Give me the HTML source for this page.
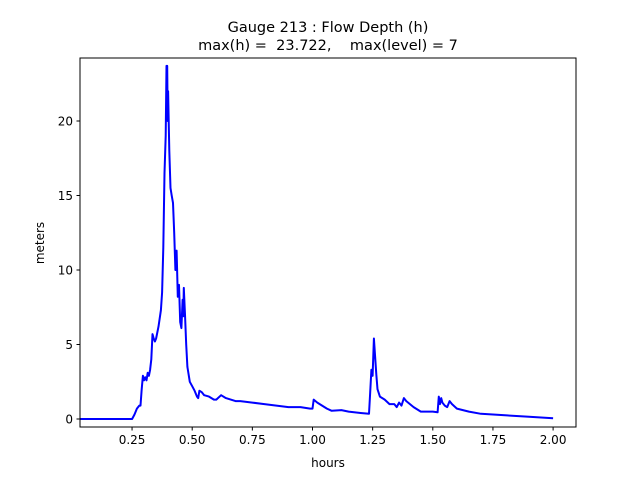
<!DOCTYPE html>
<html><head><style>
body{margin:0;background:#fff;}
svg text{font-family:"DejaVu Sans","Liberation Sans",sans-serif;fill:#000;}
</style></head><body>
<svg id="s" width="640" height="480" xmlns="http://www.w3.org/2000/svg">
<rect width="640" height="480" fill="#fff"/>
<text x="328" y="32" font-size="14.5" text-anchor="middle">Gauge 213 : Flow Depth (h)</text>
<text x="328" y="50" font-size="14.5" text-anchor="middle" xml:space="preserve">max(h) =  23.722,    max(level) = 7</text>
<g id="ticks"></g>
<path id="p" fill="none" stroke="#0000ff" stroke-width="2" stroke-linejoin="round"/>
<rect x="80" y="58" width="496" height="369" fill="none" stroke="#000" stroke-width="1"/>
<text x="328" y="467" font-size="12" text-anchor="middle">hours</text>
<text transform="translate(44,243) rotate(-90)" font-size="12" text-anchor="middle">meters</text>
</svg>
<script>
var px=function(h){return 71.9+240.6*h}, py=function(v){return 419-14.9*v};
var d=[[0.034,0],[0.25,0],[0.26,0.3],[0.27,0.7],[0.28,0.9],[0.285,0.9],[0.29,2.0],[0.295,2.9],[0.30,2.6],[0.305,2.8],[0.31,2.6],[0.315,3.1],[0.32,2.9],[0.325,3.3],[0.33,4.0],[0.335,5.7],[0.34,5.4],[0.345,5.2],[0.35,5.4],[0.36,6.2],[0.37,7.3],[0.375,8.5],[0.38,11.5],[0.385,16.5],[0.39,19],[0.393,23.7],[0.396,23.7],[0.398,20],[0.40,22],[0.405,18],[0.41,15.5],[0.415,15],[0.42,14.5],[0.425,12.5],[0.43,10],[0.435,11.3],[0.44,8.2],[0.445,9],[0.45,6.5],[0.455,6.1],[0.46,8.0],[0.463,6.9],[0.465,8.8],[0.47,7],[0.475,5],[0.48,3.5],[0.49,2.5],[0.50,2.2],[0.51,1.9],[0.52,1.5],[0.525,1.4],[0.53,1.9],[0.54,1.8],[0.55,1.6],[0.57,1.5],[0.59,1.3],[0.60,1.3],[0.62,1.6],[0.64,1.4],[0.66,1.3],[0.68,1.2],[0.70,1.2],[0.75,1.1],[0.80,1.0],[0.85,0.9],[0.90,0.8],[0.95,0.8],[0.99,0.7],[1.0,0.7],[1.005,1.3],[1.02,1.1],[1.04,0.9],[1.06,0.7],[1.08,0.55],[1.12,0.6],[1.15,0.5],[1.2,0.4],[1.235,0.35],[1.24,1.8],[1.245,3.3],[1.25,2.9],[1.255,5.4],[1.26,4.2],[1.265,3.0],[1.27,2.0],[1.28,1.5],[1.3,1.3],[1.32,1.0],[1.34,1.0],[1.35,0.8],[1.36,1.1],[1.37,0.9],[1.38,1.4],[1.39,1.2],[1.42,0.8],[1.45,0.5],[1.5,0.5],[1.52,0.45],[1.525,1.5],[1.53,1.0],[1.535,1.4],[1.54,1.1],[1.55,0.9],[1.56,0.8],[1.57,1.2],[1.58,1.0],[1.6,0.7],[1.65,0.5],[1.7,0.35],[1.8,0.25],[1.9,0.15],[2.0,0.05]];
document.getElementById('p').setAttribute('d',d.map(function(q,i){return (i?'L':'M')+px(q[0]).toFixed(1)+','+py(q[1]).toFixed(1)}).join(''));
var g='',xs=['0.25','0.50','0.75','1.00','1.25','1.50','1.75','2.00'];
xs.forEach(function(t){var x=px(+t);g+='<line x1="'+x+'" y1="427" x2="'+x+'" y2="430.5" stroke="#000"/><text x="'+x+'" y="444" font-size="12" text-anchor="middle">'+t+'</text>';});
[0,5,10,15,20].forEach(function(v){var y=py(v);g+='<line x1="76.5" y1="'+y+'" x2="80" y2="'+y+'" stroke="#000"/><text x="73" y="'+(y+4.5)+'" font-size="12" text-anchor="end">'+v+'</text>';});
document.getElementById('ticks').innerHTML=g;
</script>
</body></html>
